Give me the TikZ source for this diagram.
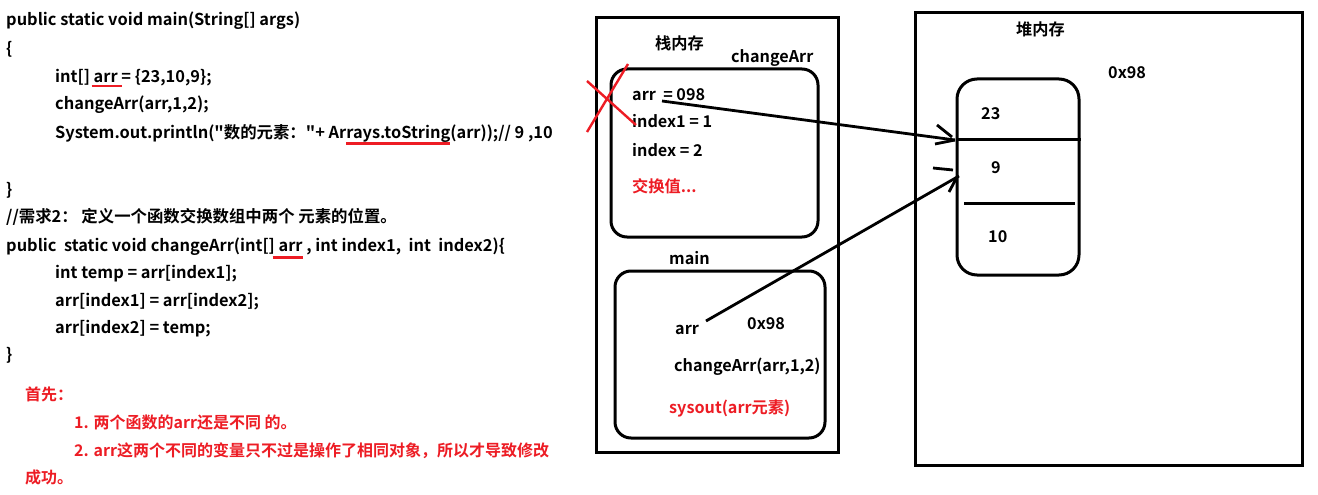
\documentclass[tikz,border=0pt]{standalone}
\usepackage{fontspec}
\setmainfont{Noto Sans CJK SC}[BoldFont={Noto Sans CJK SC Bold}, Ligatures=TeXOff]
\definecolor{pred}{RGB}{237,28,36}
% #1 depth, #2 left extension, #3 right extension, #4 text
\newcommand\redul[4]{\setbox0\hbox{#4}\dimen0=\wd0\advance\dimen0 by #2pt\advance\dimen0 by #3pt%
  \rlap{\kern-#2pt\color{pred}\rule[-#1pt]{\dimen0}{2.6pt}}\box0\relax}
\tikzset{
  txt/.style={anchor=base west, inner sep=0pt, font=\bfseries\fontsize{16.4}{19}\selectfont},
  note/.style={anchor=base west, inner sep=0pt, text=pred, font=\bfseries\fontsize{16}{19}\selectfont},
  lbl/.style={anchor=base west, inner sep=0pt, font=\bfseries\fontsize{16.2}{19}\selectfont},
  rlbl/.style={lbl, text=pred},
  box/.style={draw=black, line width=3pt},
  rbox/.style={draw=black, line width=3pt, rounded corners=16pt},
  xline/.style={draw=pred, line width=2.4pt},
  ptr/.style={draw=black, line width=2.8pt},
  head/.style={draw=black, line width=2.8pt}
}
\begin{document}
\begin{tikzpicture}[x=1pt,y=-1pt]
\useasboundingbox (0,0) rectangle (1318,495);
\fill[white] (0,0) rectangle (1318,495);
% ---------- code ----------
\node[txt] (c1) at (6,26) {public static void main(String[] args)};
\node[txt] (c2) at (6,55) {\{};
\node[txt] (c3) at (55,83) {int[] \redul{4.3}{2}{4}{arr} = \{23,10,9\};};
\node[txt] (c4) at (55,110) {changeArr(arr,1,2);};
\node[txt] (c5) at (55,138) {System.out.println("数的元素："+ Ar\redul{6.5}{0}{0}{rays.toString}(arr));// 9 ,10};
\node[txt] (c6) at (6,195) {\}};
\node[txt] (c7) at (6,222) {//需求2： 定义一个函数交换数组中两个 元素的位置。};
\node[txt] (c8) at (6,251) {public\ \ static void changeArr(int[] \redul{7.5}{6}{0}{arr} , int index1,\ \ int\ \ index2)\{};
\node[txt] (c9) at (55,278) {int temp = arr[index1];};
\node[txt] (c10) at (55,306) {arr[index1] = arr[index2];};
\node[txt] (c11) at (55,333) {arr[index2] = temp;};
\node[txt] (c12) at (6,360) {\}};
\node[note] (n0) at (25,400) {首先：};
\node[note] (n1) at (74,428) {1. 两个函数的arr还是不同 的。};
\node[note] (n2) at (74,456) {2. arr这两个不同的变量只不过是操作了相同对象，所以才导致修改};
\node[note] (n3) at (25,483) {成功。};
% ---------- stack ----------
\draw[box] (596,18) rectangle (838,452);
\node[lbl] (stk) at (655,50) {栈内存};
\node[lbl] (lca) at (731,63) {changeArr};
\draw[rbox] (611,69) rectangle (818,237);
\node[lbl] (ca1) at (632,100) {arr\ \ = 098};
\node[lbl] (ca2) at (632,128) {index1 = 1};
\node[lbl] (ca3) at (632,156) {index = 2};
\node[rlbl] (ca4) at (632,192) {交换值...};
\draw[xline] (587,132) -- (628,64);
\draw[xline] (587,81) -- (636,125);
\node[lbl] (lmain) at (669,264) {main};
\draw[rbox] (615,271) rectangle (825,438);
\node[lbl] (m1) at (675,334) {arr};
\node[lbl] (m2) at (747,329) {0x98};
\node[lbl] (m3) at (674,371) {changeArr(arr,1,2)};
\node[rlbl] (m4) at (669,413) {sysout(arr元素)};
% ---------- heap ----------
\draw[box] (915,13) rectangle (1302,465);
\node[lbl] (hp) at (1016,36) {堆内存};
\node[lbl] (addr) at (1108,79) {0x98};
\draw[rbox, rounded corners=20pt] (957,79) rectangle (1079,275);
\draw[box] (957,139) -- (1081,139);
\draw[box] (964,203) -- (1075,203);
\node[lbl] (v1) at (981,119) {23};
\node[lbl] (v2) at (991,173) {9};
\node[lbl] (v3) at (988,242) {10};
% ---------- pointers ----------
\coordinate (p1s) at (662,101);
\coordinate (p1e) at (955,140);
\coordinate (p2s) at (706,321);
\coordinate (p2e) at (959,176);
\draw[ptr] (p1s) -- (p1e);
\draw[ptr] (p2s) -- (p2e);
\draw[head] (937,125) -- (952,137);
\draw[head] (935,144) -- (955,140);
\draw[head] (933,168) -- (953,170);
\draw[head] (949,192) -- (957,177);
\end{tikzpicture}
\end{document}
